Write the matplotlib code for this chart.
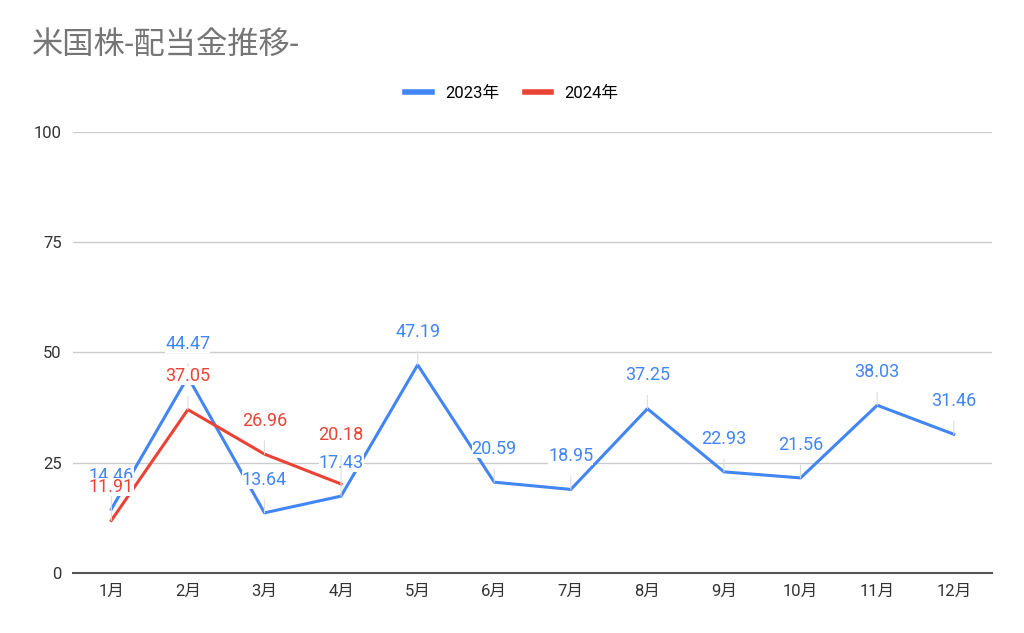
import matplotlib.pyplot as plt
from matplotlib.lines import Line2D

plt.rcParams['font.family'] = ['Roboto', 'Noto Sans CJK JP', 'DejaVu Sans']

# data
months = ['1月', '2月', '3月', '4月', '5月', '6月', '7月', '8月', '9月', '10月', '11月', '12月']
div2023 = [14.46, 44.47, 13.64, 17.43, 47.19, 20.59, 18.95, 37.25, 22.93, 21.56, 38.03, 31.46]
div2024 = [11.91, 37.05, 26.96, 20.18]
yticks = [0, 25, 50, 75, 100]

blue = '#4285F4'
red = '#EA4335'

fig = plt.figure(figsize=(10.24, 6.33), dpi=100)
ax = fig.add_axes([0.0713, 0.0948, 0.8975, 0.6967])

x1 = list(range(len(div2023)))
x2 = list(range(len(div2024)))
ax.plot(x1, div2023, color=blue, lw=2.2, zorder=3)
ax.plot(x2, div2024, color=red, lw=2.2, zorder=4)

# data labels with thin leader lines (white box like the original)
def labels(xs, ys, color, z, bump={}):
    for x, y in zip(xs, ys):
        off = 24 + bump.get(x, 0)
        ax.annotate(f'{y:.2f}', xy=(x, y), xytext=(0, off), textcoords='offset points',
                    ha='center', va='center', color=color, fontsize=13, zorder=z,
                    bbox=dict(fc='white', ec='none', pad=0.05),
                    arrowprops=dict(arrowstyle='-', color='#dddddd', lw=0.8,
                                    shrinkA=8, shrinkB=0))

labels(x1, div2023, blue, 5)
labels(x2, div2024, red, 6, bump={3: 11})

ax.set_xlim(-0.5, 11.5)
ax.set_ylim(0, 100)
ax.set_yticks(yticks)
ax.set_xticks(x1)
ax.set_xticklabels(months)
ax.grid(axis='y', color='#cccccc', lw=1)
ax.set_axisbelow(True)
for s in ['top', 'right', 'left']:
    ax.spines[s].set_visible(False)
ax.spines['bottom'].set_color('#555555')
ax.spines['bottom'].set_linewidth(1.5)
ax.tick_params(axis='both', length=0, labelsize=12, colors='#333333', pad=8)

fig.text(0.031, 0.928, '米国株-配当金推移-', fontsize=22.5, color='#757575', va='center')

handles = [Line2D([], [], color=blue, lw=4), Line2D([], [], color=red, lw=4)]
fig.legend(handles, ['2023年', '2024年'], loc='center', bbox_to_anchor=(0.5, 0.853),
           ncol=2, frameon=False, fontsize=12, handlelength=1.6, columnspacing=1.5)

fig.savefig('out.png', dpi=100)
